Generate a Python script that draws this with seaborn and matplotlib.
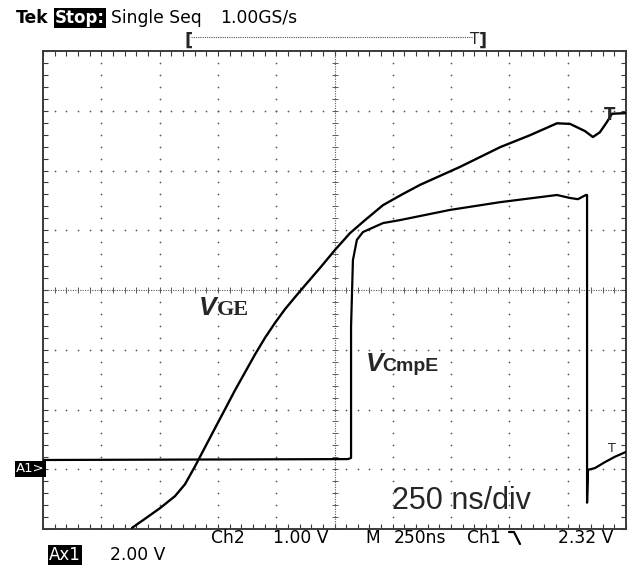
import numpy as np
import pandas as pd
import seaborn as sns
import matplotlib
matplotlib.use("Agg")
import matplotlib.pyplot as plt
from matplotlib.ticker import MultipleLocator
from matplotlib.lines import Line2D

# ---- data: time in ns (250 ns/div), level in screen divisions ----
vge_t = [382, 437, 502, 566, 609, 652, 695, 738, 780, 823, 866, 909, 952, 995,
         1038, 1102, 1188, 1252, 1316, 1381, 1458, 1540, 1617, 1788, 1960, 2088,
         2204, 2260, 2324, 2358, 2388, 2418, 2440, 2500]
vge_v = [0.02, 0.17, 0.35, 0.55, 0.75, 1.05, 1.37, 1.69, 2.00, 2.32, 2.62, 2.92,
         3.20, 3.45, 3.68, 3.98, 4.37, 4.67, 4.95, 5.17, 5.42, 5.60, 5.76, 6.06,
         6.39, 6.59, 6.79, 6.78, 6.66, 6.56, 6.64, 6.81, 6.95, 6.96]

vce_t = [0, 1308, 1321, 1321, 1329, 1346, 1372, 1458, 1531, 1745, 1960, 2204,
         2260, 2294, 2328, 2333, 2333, 2337, 2367, 2410, 2453, 2500]
vce_v = [1.155, 1.17, 1.19, 3.38, 4.50, 4.84, 4.97, 5.12, 5.17, 5.34, 5.47, 5.59,
         5.54, 5.52, 5.59, 5.59, 0.44, 0.99, 1.02, 1.12, 1.21, 1.29]

W, H = 629, 567
sns.set_style("white")
plt.rcParams["font.family"] = ["DejaVu Sans"]

fig = plt.figure(figsize=(W / 100, H / 100), dpi=100)
L, R, T, B = 43, 626, 51, 529
ax = fig.add_axes([L / W, 1 - B / H, (R - L) / W, (B - T) / H])
ax.set_xlim(0, 2500)
ax.set_ylim(0, 8)

# graticule
gc = "#5a5a5a"
ys = np.arange(0, 8.001, 0.2)
xs = np.arange(0, 2500.1, 50)
for k in range(1, 10):
    if k == 5:
        continue
    ax.scatter(np.full(ys.size, k * 250), ys, s=1.6, color=gc, linewidths=0, zorder=1)
for j in range(1, 8):
    if j == 4:
        continue
    ax.scatter(xs, np.full(xs.size, j), s=1.6, color=gc, linewidths=0, zorder=1)
ax.axhline(4, color=gc, lw=0.8, ls=(0, (1, 1.2)), zorder=1)
ax.axvline(1250, color=gc, lw=0.8, ls=(0, (1, 1.2)), zorder=1)
ax.scatter(xs, np.full(xs.size, 4), marker="|", s=22, color=gc, linewidths=0.7, zorder=1)
ax.scatter(np.full(ys.size, 1250), ys, marker="_", s=22, color=gc, linewidths=0.7, zorder=1)

for sp in ax.spines.values():
    sp.set_color("#3a3a3a")
    sp.set_linewidth(1.4)
ax.xaxis.set_major_locator(MultipleLocator(250))
ax.xaxis.set_minor_locator(MultipleLocator(50))
ax.yaxis.set_major_locator(MultipleLocator(1))
ax.yaxis.set_minor_locator(MultipleLocator(0.2))
ax.tick_params(which="both", direction="in", top=True, right=True, bottom=True,
               left=True, length=3.5, width=0.8, color="#3a3a3a",
               labelbottom=False, labelleft=False)

# traces
df1 = pd.DataFrame({"t": vce_t, "v": vce_v})
df2 = pd.DataFrame({"t": vge_t, "v": vge_v})
sns.lineplot(data=df1, x="t", y="v", sort=False, estimator=None, color="black",
             lw=1.6, ax=ax, zorder=3)
sns.lineplot(data=df2, x="t", y="v", sort=False, estimator=None, color="black",
             lw=1.7, ax=ax, zorder=3)
ax.set_xlabel("")
ax.set_ylabel("")


def ft(x, y, s, **kw):
    kw.setdefault("va", "center")
    return fig.text(x / W, 1 - y / H, s, **kw)


mono = dict(family="DejaVu Sans", fontsize=12.3, color="black")
# header
ft(16, 18, "Tek", fontweight="bold", **mono)
ft(55, 18, "Stop:", fontweight="bold", fontsize=12, color="white", family="DejaVu Sans",
   bbox=dict(facecolor="black", edgecolor="none", pad=0.6))
ft(111, 18, "Single Seq", **mono)
ft(220, 18, "1.00GS/s", **mono)
ft(184, 41, "[", fontweight="bold", fontsize=13, family="DejaVu Sans")
fig.add_artist(Line2D([191 / W, 472 / W], [1 - 37 / H, 1 - 37 / H], color="#555555",
                      lw=0.8, ls=(0, (1, 1))))
ft(470, 40, "T", fontsize=11, family="DejaVu Sans")
ft(479, 41, "]", fontweight="bold", fontsize=13, family="DejaVu Sans")

# footer
ft(211, 538, "Ch2", **mono)
ft(273, 538, "1.00 V", **mono)
ft(365, 538, "M", **mono)
ft(394, 538, "250ns", **mono)
ft(467, 538, "Ch1", **mono)
fig.add_artist(Line2D([509 / W, 514 / W, 520 / W], [1 - 532 / H, 1 - 532 / H, 1 - 544 / H],
                      color="black", lw=1.6))
ft(558, 538, "2.32 V", **mono)
ft(49, 555, "Ax1", color="white", fontsize=12, family="DejaVu Sans",
   bbox=dict(facecolor="black", edgecolor="none", pad=0.6))
ft(110, 555, "2.00 V", **mono)
ft(16, 469, "A1>", color="white", fontsize=9.5, family="DejaVu Sans",
   bbox=dict(facecolor="black", edgecolor="none", pad=0.8))

# trace markers
ft(604, 115, "T", fontweight="bold", fontsize=12, family="DejaVu Sans")
ft(608, 448, "T", fontsize=9, family="DejaVu Sans")

# annotations
ft(392, 509, "250 ns/div", va="baseline", family="Liberation Sans", fontsize=22)
ft(199, 315, "V", va="baseline", family="Liberation Sans", fontweight="bold",
   style="italic", fontsize=19)
ft(217, 315, "GE", va="baseline", family="Liberation Serif", fontweight="bold",
   fontsize=16)
ft(366, 371, "V", va="baseline", family="Liberation Sans", fontweight="bold",
   style="italic", fontsize=19)
ft(382, 371, "CmpE", va="baseline", family="Liberation Sans", fontweight="bold",
   fontsize=14)

fig.savefig("out.png", dpi=100)
